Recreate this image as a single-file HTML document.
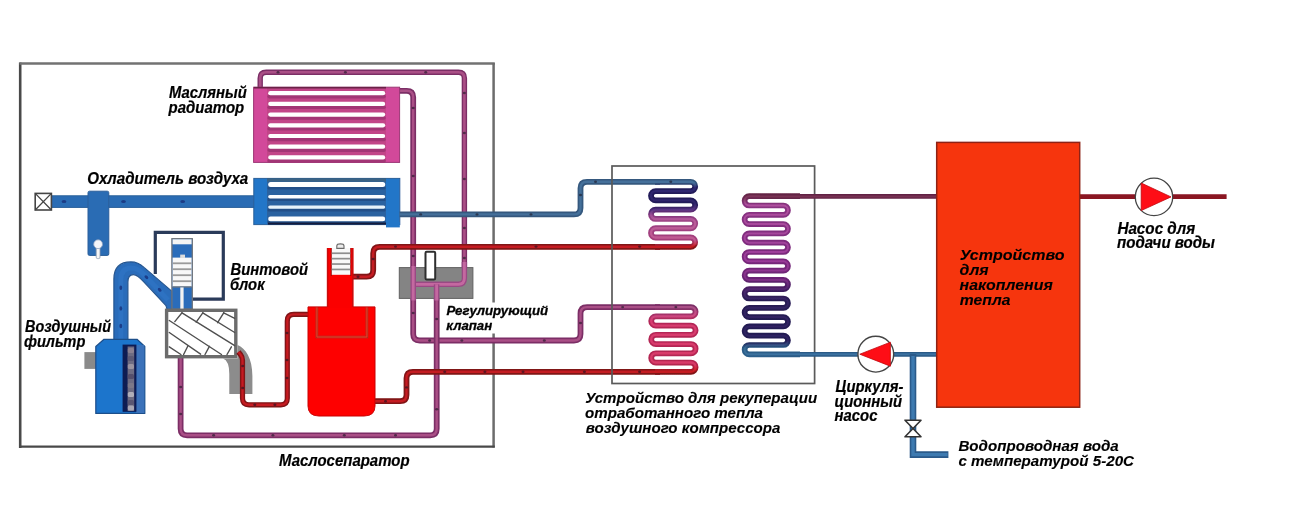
<!DOCTYPE html>
<html lang="ru">
<head>
<meta charset="utf-8">
<title>Схема рекуперации тепла воздушного компрессора</title>
<style>
html,body{margin:0;padding:0;background:#fff;}
body{width:1300px;height:528px;overflow:hidden;font-family:"Liberation Sans",Arial,sans-serif;}
svg{display:block;}
</style>
</head>
<body>
<svg width="1300" height="528" viewBox="0 0 1300 528">
<defs>
<linearGradient id="g1" gradientUnits="userSpaceOnUse" x1="0" y1="178.5" x2="0" y2="249.5">
<stop offset="0" stop-color="#34587e"/><stop offset="0.06" stop-color="#34587e"/><stop offset="0.13" stop-color="#221a5a"/><stop offset="0.36" stop-color="#221a58"/><stop offset="0.44" stop-color="#4a2870"/><stop offset="0.52" stop-color="#883a80"/><stop offset="0.6" stop-color="#9c4284"/><stop offset="0.86" stop-color="#a43e7c"/><stop offset="0.92" stop-color="#a82a44"/><stop offset="0.955" stop-color="#801216"/><stop offset="1" stop-color="#801216"/>
</linearGradient>
<linearGradient id="g1i" gradientUnits="userSpaceOnUse" x1="0" y1="178.5" x2="0" y2="249.5">
<stop offset="0" stop-color="#44709a"/><stop offset="0.06" stop-color="#44709a"/><stop offset="0.13" stop-color="#2e2670"/><stop offset="0.36" stop-color="#2e246a"/><stop offset="0.44" stop-color="#5a3484"/><stop offset="0.52" stop-color="#a04e96"/><stop offset="0.6" stop-color="#b85a98"/><stop offset="0.86" stop-color="#c05a92"/><stop offset="0.92" stop-color="#c83854"/><stop offset="0.955" stop-color="#c41a20"/><stop offset="1" stop-color="#c41a20"/>
</linearGradient>
<linearGradient id="g2" gradientUnits="userSpaceOnUse" x1="0" y1="193" x2="0" y2="357">
<stop offset="0" stop-color="#642444"/><stop offset="0.03" stop-color="#6a2850"/><stop offset="0.07" stop-color="#8a3482"/><stop offset="0.4" stop-color="#7a287c"/><stop offset="0.52" stop-color="#6a2474"/><stop offset="0.6" stop-color="#3a1c5c"/><stop offset="0.66" stop-color="#261a52"/><stop offset="0.9" stop-color="#221a52"/><stop offset="0.945" stop-color="#2a5a84"/><stop offset="1" stop-color="#2c608c"/>
</linearGradient>
<linearGradient id="g2i" gradientUnits="userSpaceOnUse" x1="0" y1="193" x2="0" y2="357">
<stop offset="0" stop-color="#783252"/><stop offset="0.03" stop-color="#80385e"/><stop offset="0.07" stop-color="#b0509e"/><stop offset="0.4" stop-color="#9c3c9a"/><stop offset="0.52" stop-color="#843088"/><stop offset="0.6" stop-color="#48266c"/><stop offset="0.66" stop-color="#322462"/><stop offset="0.9" stop-color="#2e2462"/><stop offset="0.945" stop-color="#386c96"/><stop offset="1" stop-color="#3c74a0"/>
</linearGradient>
<linearGradient id="g3" gradientUnits="userSpaceOnUse" x1="0" y1="304" x2="0" y2="375">
<stop offset="0" stop-color="#7c2e66"/><stop offset="0.05" stop-color="#7c2e66"/><stop offset="0.14" stop-color="#a4346a"/><stop offset="0.25" stop-color="#b42858"/><stop offset="0.85" stop-color="#b42650"/><stop offset="0.92" stop-color="#a81a28"/><stop offset="0.955" stop-color="#801216"/><stop offset="1" stop-color="#801216"/>
</linearGradient>
<linearGradient id="g3i" gradientUnits="userSpaceOnUse" x1="0" y1="304" x2="0" y2="375">
<stop offset="0" stop-color="#aa5086"/><stop offset="0.05" stop-color="#aa5086"/><stop offset="0.14" stop-color="#c84c84"/><stop offset="0.25" stop-color="#d83c70"/><stop offset="0.85" stop-color="#d83a68"/><stop offset="0.92" stop-color="#d42430"/><stop offset="0.955" stop-color="#c41a20"/><stop offset="1" stop-color="#c41a20"/>
</linearGradient>
<filter id="soft" x="0" y="0" width="1300" height="528" filterUnits="userSpaceOnUse"><feGaussianBlur stdDeviation="0.7"/></filter>
<filter id="tsoft" x="0" y="0" width="1300" height="528" filterUnits="userSpaceOnUse"><feGaussianBlur stdDeviation="0.4"/></filter>
</defs>
<rect width="1300" height="528" fill="#fff"/>
<g filter="url(#soft)">
<g fill="none">
<line x1="20.2" y1="62.6" x2="20.2" y2="448" stroke="#4a4a4a" stroke-width="2.6"/>
<line x1="19.5" y1="63.5" x2="494.8" y2="63.5" stroke="#727272" stroke-width="2.3"/>
<line x1="493.6" y1="63" x2="493.6" y2="447.6" stroke="#6c6c6c" stroke-width="2.5"/>
<line x1="19" y1="446.6" x2="494.8" y2="446.6" stroke="#4a4a4a" stroke-width="2.4"/>
</g>
<path d="M260.2,92 L260.20,78.30 Q260.2,72.3 266.20,72.30 L458.40,72.30 Q464.4,72.3 464.40,78.30 L464.40,278.30 Q464.4,284.3 458.40,284.30 L413.2,284.3" fill="none" stroke="#7c2e66" stroke-width="5.4" stroke-linejoin="round" /><path d="M260.2,92 L260.20,78.30 Q260.2,72.3 266.20,72.30 L458.40,72.30 Q464.4,72.3 464.40,78.30 L464.40,278.30 Q464.4,284.3 458.40,284.30 L413.2,284.3" fill="none" stroke="#aa5086" stroke-width="2.6" stroke-linejoin="round" />
<path d="M398,90.8 L406.70,90.80 Q413.2,90.8 413.20,97.30 L413.20,334.00 Q413.2,340.5 419.70,340.50 L574.00,340.50 Q580.5,340.5 580.50,334.00 L580.50,313.60 Q580.5,307.1 587.00,307.10 L660,307.1" fill="none" stroke="#7c2e66" stroke-width="5.8" stroke-linejoin="round" /><path d="M398,90.8 L406.70,90.80 Q413.2,90.8 413.20,97.30 L413.20,334.00 Q413.2,340.5 419.70,340.50 L574.00,340.50 Q580.5,340.5 580.50,334.00 L580.50,313.60 Q580.5,307.1 587.00,307.10 L660,307.1" fill="none" stroke="#aa5086" stroke-width="2.4" stroke-linejoin="round" />
<path d="M436.7,284.3 L436.70,428.80 Q436.7,435.3 430.20,435.30 L187.10,435.30 Q180.6,435.3 180.60,428.80 L180.6,357" fill="none" stroke="#7c2e66" stroke-width="5.8" stroke-linejoin="round" /><path d="M436.7,284.3 L436.70,428.80 Q436.7,435.3 430.20,435.30 L187.10,435.30 Q180.6,435.3 180.60,428.80 L180.6,357" fill="none" stroke="#aa5086" stroke-width="2.4" stroke-linejoin="round" />
<rect x="253.6" y="87.2" width="146" height="75.2" fill="#d2489a"/>
<rect x="267" y="87.2" width="119" height="75.2" fill="#c24488"/>
<rect x="253.6" y="87.2" width="146" height="75.2" fill="none" stroke="#9c3876" stroke-width="1"/>
<rect x="254" y="86.9" width="132" height="1.6" fill="#6a2446"/>
<rect x="267.4" y="94.80" width="118.4" height="3.6" rx="1.8" fill="#a23474"/>
<rect x="268.2" y="91.10" width="117" height="4.2" rx="2.1" fill="#fff"/>
<rect x="267.4" y="105.50" width="118.4" height="3.6" rx="1.8" fill="#a23474"/>
<rect x="268.2" y="101.80" width="117" height="4.2" rx="2.1" fill="#fff"/>
<rect x="267.4" y="116.20" width="118.4" height="3.6" rx="1.8" fill="#a23474"/>
<rect x="268.2" y="112.50" width="117" height="4.2" rx="2.1" fill="#fff"/>
<rect x="267.4" y="126.90" width="118.4" height="3.6" rx="1.8" fill="#a23474"/>
<rect x="268.2" y="123.20" width="117" height="4.2" rx="2.1" fill="#fff"/>
<rect x="267.4" y="137.60" width="118.4" height="3.6" rx="1.8" fill="#a23474"/>
<rect x="268.2" y="133.90" width="117" height="4.2" rx="2.1" fill="#fff"/>
<rect x="267.4" y="148.30" width="118.4" height="3.6" rx="1.8" fill="#a23474"/>
<rect x="268.2" y="144.60" width="117" height="4.2" rx="2.1" fill="#fff"/>
<rect x="267.4" y="159.00" width="118.4" height="3.6" rx="1.8" fill="#a23474"/>
<rect x="268.2" y="155.30" width="117" height="4.2" rx="2.1" fill="#fff"/>
<rect x="51.5" y="195.8" width="204" height="11.6" fill="#2c6cb4"/>
<rect x="51.5" y="195.8" width="204" height="11.6" fill="none" stroke="#2a5f9a" stroke-width="1"/>
<rect x="88" y="191.2" width="20.8" height="64.2" rx="1.5" fill="#2c6cb4" stroke="#2a5f9a" stroke-width="1"/>
<rect x="96.2" y="246" width="3.8" height="12.6" rx="1.4" fill="#f6f6f6" stroke="#8a9ab0" stroke-width="0.8"/>
<circle cx="98.1" cy="244.2" r="4.4" fill="#f4f6fa" stroke="#8aa0c0" stroke-width="0.8"/>
<rect x="35.2" y="193.4" width="16.2" height="16.6" fill="#fff" stroke="#444" stroke-width="1.6"/>
<path d="M35.2,193.4 L51.4,210 M51.4,193.4 L35.2,210" stroke="#444" stroke-width="1.3" fill="none"/>
<rect x="253.8" y="178.4" width="146" height="46.2" fill="#2276c8"/>
<rect x="267" y="178.4" width="119" height="46.2" fill="#2c62a0"/>
<rect x="253.8" y="178.4" width="146" height="46.2" fill="none" stroke="#2a5f9a" stroke-width="1"/>
<rect x="267" y="178.2" width="119" height="3.4" fill="#3a6284"/>
<rect x="386" y="222" width="13.8" height="5.4" fill="#2276c8"/>
<rect x="267.6" y="186.60" width="118" height="3" rx="1.2" fill="#234f88"/>
<rect x="268.2" y="182.00" width="117" height="5" rx="2.5" fill="#fff"/>
<rect x="267.6" y="198.10" width="118" height="3" rx="1.2" fill="#234f88"/>
<rect x="268.2" y="194.90" width="117" height="3.6" rx="1.8" fill="#fbfdff"/>
<rect x="267.6" y="208.40" width="118" height="3" rx="1.2" fill="#234f88"/>
<rect x="268.2" y="205.40" width="117" height="3.4" rx="1.7" fill="#e6f2fa"/>
<rect x="267.6" y="220.80" width="118" height="3" rx="1.2" fill="#234f88"/>
<rect x="268.2" y="216.60" width="117" height="4.6" rx="2.3" fill="#fff"/>
<rect x="268" y="222.6" width="118" height="2" fill="#161c3c"/>
<path d="M399.6,214.4 L574.00,214.40 Q580.5,214.4 580.50,207.90 L580.50,188.30 Q580.5,181.8 587.00,181.80 L660,181.8" fill="none" stroke="#34587e" stroke-width="5.8" stroke-linejoin="round" /><path d="M399.6,214.4 L574.00,214.40 Q580.5,214.4 580.50,207.90 L580.50,188.30 Q580.5,181.8 587.00,181.80 L660,181.8" fill="none" stroke="#44709a" stroke-width="2.4" stroke-linejoin="round" />
<path d="M353,276.7 L366.70,276.70 Q373.2,276.7 373.20,270.20 L373.20,253.30 Q373.2,246.8 379.70,246.80 L660,246.8" fill="none" stroke="#801216" stroke-width="5.8" stroke-linejoin="round" /><path d="M353,276.7 L366.70,276.70 Q373.2,276.7 373.20,270.20 L373.20,253.30 Q373.2,246.8 379.70,246.80 L660,246.8" fill="none" stroke="#c41a20" stroke-width="2.4" stroke-linejoin="round" />
<path d="M374,401.2 L400.00,401.20 Q406.5,401.2 406.50,394.70 L406.50,378.30 Q406.5,371.8 413.00,371.80 L660,371.8" fill="none" stroke="#801216" stroke-width="5.8" stroke-linejoin="round" /><path d="M374,401.2 L400.00,401.20 Q406.5,401.2 406.50,394.70 L406.50,378.30 Q406.5,371.8 413.00,371.80 L660,371.8" fill="none" stroke="#c41a20" stroke-width="2.4" stroke-linejoin="round" />
<rect x="399.3" y="267.6" width="73.6" height="30.8" fill="#848484" stroke="#626262" stroke-width="1"/>
<path d="M464.4,262 L464.40,278.30 Q464.4,284.3 458.40,284.30 L413.2,284.3" fill="none" stroke="#9a4a84" stroke-width="5.4" stroke-linejoin="round" /><path d="M464.4,262 L464.40,278.30 Q464.4,284.3 458.40,284.30 L413.2,284.3" fill="none" stroke="#c468a0" stroke-width="2.8" stroke-linejoin="round" />
<path d="M413.2,266 L413.2,300.5" fill="none" stroke="#9a4a84" stroke-width="5.6" stroke-linejoin="round" /><path d="M413.2,266 L413.2,300.5" fill="none" stroke="#c468a0" stroke-width="2.8" stroke-linejoin="round" />
<path d="M436.6,284.3 L436.6,300.5" fill="none" stroke="#9a4a84" stroke-width="5.6" stroke-linejoin="round" /><path d="M436.6,284.3 L436.6,300.5" fill="none" stroke="#c468a0" stroke-width="2.8" stroke-linejoin="round" />
<rect x="425.5" y="251.8" width="9.7" height="27.6" rx="1.2" fill="#fff" stroke="#2e2e2e" stroke-width="2"/>
<path d="M155.3,274 L155.3,232.3 L223.3,232.3 L223.3,299.2 L192,299.2" fill="none" stroke="#2c3a5a" stroke-width="3.2"/>
<path d="M113.9,346 L113.9,279 C113.9,268 120,261.9 131,261.9 C137,261.9 140.5,264.2 144,267.4 L172,291.4 L172,311 L167.5,311 L166,305.6 L143.8,281.8 C140,277.6 137,274.6 133.4,274.6 C129.6,274.6 127.9,277.6 127.9,282 L127.9,346 Z" fill="#2a6cba" stroke="#25558f" stroke-width="1.2" stroke-linejoin="round"/>
<path d="M120.8,346 L120.8,280 C120.8,271 125,268 131.5,268 C137,268 140,270.5 143.5,274 L168,300" fill="none" stroke="#3078c8" stroke-width="5" opacity="0.55"/>
<rect x="171.9" y="238.7" width="20.4" height="70.5" fill="#2a6cba" stroke="#6e747c" stroke-width="1.3"/>
<rect x="172.6" y="239.3" width="19" height="5" fill="#f4f4f4"/>
<rect x="172.6" y="257.6" width="19" height="29" fill="#f8f8f8"/>
<rect x="172.6" y="262.40000000000003" width="19" height="1.8" fill="#9a9a9a"/>
<rect x="172.6" y="268.3" width="19" height="1.8" fill="#9a9a9a"/>
<rect x="172.6" y="274.3" width="19" height="1.8" fill="#9a9a9a"/>
<rect x="172.6" y="280.3" width="19" height="1.8" fill="#9a9a9a"/>
<rect x="180.2" y="254.6" width="4.8" height="3.4" fill="#dcdcdc"/>
<rect x="172.6" y="286.3" width="19" height="1.3" fill="#70757c"/>
<rect x="180.3" y="287.4" width="3.3" height="22" fill="#f2f2f2"/>
<rect x="166.6" y="310.3" width="69.2" height="46.4" fill="#fff" stroke="#6c6c6c" stroke-width="3.4"/>
<g stroke="#505050" stroke-width="1.4" fill="none" stroke-linecap="round">
<path d="M169.3,320.5 L221.5,354.5 M169.3,332.5 L200.6,354.2 M169.3,346.8 L180.9,354.5 M182,312.8 L234.7,345.7 M202.8,312.8 L234.7,332.5 M223.7,312.8 L234.7,318.3"/>
<path d="M174.8,321.6 L182,312.8 M196.2,322.1 L202.8,312.8 M217.6,322.7 L223.7,312.8 M183.6,354.5 L188,345.7 M205,354.5 L209.4,346.3 M227,354.5 L231.4,346.8"/>
</g>
<path d="M237.6,345 C245.5,348.5 252.4,358 252.4,376 L252.4,394 L229.3,394 L229.3,374 Q229.3,361 223,358.6 L237.6,358.6 Z" fill="#8c8c8c"/>
<path d="M238.4,352 L240.45,354.50 Q242.5,357 242.50,360.23 L242.50,398.30 Q242.5,404.8 249.00,404.80 L280.80,404.80 Q287.3,404.8 287.30,398.30 L287.30,320.90 Q287.3,314.4 293.80,314.40 L309,314.4" fill="none" stroke="#801216" stroke-width="5.2" stroke-linejoin="round" /><path d="M238.4,352 L240.45,354.50 Q242.5,357 242.50,360.23 L242.50,398.30 Q242.5,404.8 249.00,404.80 L280.80,404.80 Q287.3,404.8 287.30,398.30 L287.30,320.90 Q287.3,314.4 293.80,314.40 L309,314.4" fill="none" stroke="#c41a20" stroke-width="2.4" stroke-linejoin="round" />
<rect x="84.4" y="352.1" width="12" height="16.8" fill="#8a8a8a"/>
<path d="M95.8,413.4 L95.8,346.5 L104,339.3 L137,339.3 L144.8,346.5 L144.8,413.4 Z" fill="#1c74cc" stroke="#1f4f8a" stroke-width="1.2" stroke-linejoin="round"/>
<rect x="136" y="345" width="8.2" height="68" fill="#3a72ba"/>
<rect x="122.6" y="344.6" width="13.8" height="67.2" fill="#101a52"/>
<rect x="127.6" y="346.5" width="6.6" height="64.5" fill="#6e6c82"/>
<rect x="127.8" y="348" width="6.2" height="5" rx="1.5" fill="#8a8090"/>
<rect x="127.8" y="356" width="6.2" height="5" rx="1.5" fill="#5c5a74"/>
<rect x="127.8" y="364" width="6.2" height="5" rx="1.5" fill="#9a94a0"/>
<rect x="127.8" y="374" width="6.2" height="5" rx="1.5" fill="#54506c"/>
<rect x="127.8" y="383" width="6.2" height="5" rx="1.5" fill="#7c7888"/>
<rect x="127.8" y="392" width="6.2" height="5" rx="1.5" fill="#b0aeb8"/>
<rect x="127.8" y="400" width="6.2" height="5" rx="1.5" fill="#5a5672"/>
<rect x="127.8" y="405.5" width="6.2" height="5" rx="1.5" fill="#a8a6b4"/>
<path d="M308,306.9 L375,306.9 L375,406 Q375,416 364,416 L319,416 Q308,416 308,406 Z" fill="#fe0000" stroke="#c80a0a" stroke-width="1"/>
<rect x="326.9" y="248" width="26.4" height="60" fill="#fb0000"/>
<rect x="326.9" y="248" width="1.4" height="59" fill="#c80808"/>
<rect x="352" y="248" width="1.4" height="59" fill="#c80808"/>
<rect x="330.8" y="248" width="1.2" height="28" fill="#a01010"/>
<rect x="350" y="248" width="1.2" height="28" fill="#a01010"/>
<rect x="331.8" y="248" width="18.4" height="26.8" fill="#f8f8f8"/>
<rect x="331.8" y="252.4" width="18.4" height="1.7" fill="#8e8e8e"/>
<rect x="331.8" y="257.8" width="18.4" height="1.7" fill="#8e8e8e"/>
<rect x="331.8" y="263.2" width="18.4" height="1.7" fill="#8e8e8e"/>
<rect x="331.8" y="268.6" width="18.4" height="1.7" fill="#8e8e8e"/>
<path d="M336.8,248.4 L336.8,245.8 Q336.8,243.9 340.4,243.9 Q344,243.9 344,245.8 L344,248.4 Z" fill="#ececec" stroke="#6a6a6a" stroke-width="1.1"/>
<path d="M316.9,307.4 L316.9,337 L366.9,337 L366.9,307.4" fill="none" stroke="#a8301e" stroke-width="2.6"/>
<path d="M316.9,307.4 L316.9,337 L366.9,337 L366.9,307.4" fill="none" stroke="#ff3a2a" stroke-width="0.9"/>
<rect x="612" y="166" width="202.6" height="217.5" fill="none" stroke="#5a5a5a" stroke-width="1.7"/>
<path d="M655,181.8 L690.56,181.80 A4.64,4.64 0 0 1 690.56,191.09 L655.64,191.09 A4.64,4.64 0 0 0 655.64,200.37 L690.56,200.37 A4.64,4.64 0 0 1 690.56,209.66 L655.64,209.66 A4.64,4.64 0 0 0 655.64,218.94 L690.56,218.94 A4.64,4.64 0 0 1 690.56,228.23 L655.64,228.23 A4.64,4.64 0 0 0 655.64,237.52 L690.56,237.52 A4.64,4.64 0 0 1 690.56,246.80 L655,246.8" fill="none" stroke="url(#g1)" stroke-width="5.8" stroke-linejoin="round" /><path d="M655,181.8 L690.56,181.80 A4.64,4.64 0 0 1 690.56,191.09 L655.64,191.09 A4.64,4.64 0 0 0 655.64,200.37 L690.56,200.37 A4.64,4.64 0 0 1 690.56,209.66 L655.64,209.66 A4.64,4.64 0 0 0 655.64,218.94 L690.56,218.94 A4.64,4.64 0 0 1 690.56,228.23 L655.64,228.23 A4.64,4.64 0 0 0 655.64,237.52 L690.56,237.52 A4.64,4.64 0 0 1 690.56,246.80 L655,246.8" fill="none" stroke="url(#g1i)" stroke-width="2.4" stroke-linejoin="round" />
<path d="M655,307.1 L690.98,307.10 A4.62,4.62 0 0 1 690.98,316.34 L655.82,316.34 A4.62,4.62 0 0 0 655.82,325.58 L690.98,325.58 A4.62,4.62 0 0 1 690.98,334.82 L655.82,334.82 A4.62,4.62 0 0 0 655.82,344.06 L690.98,344.06 A4.62,4.62 0 0 1 690.98,353.30 L655.82,353.30 A4.62,4.62 0 0 0 655.82,362.54 L690.98,362.54 A4.62,4.62 0 0 1 690.98,371.78 L655,371.8" fill="none" stroke="url(#g3)" stroke-width="5.8" stroke-linejoin="round" /><path d="M655,307.1 L690.98,307.10 A4.62,4.62 0 0 1 690.98,316.34 L655.82,316.34 A4.62,4.62 0 0 0 655.82,325.58 L690.98,325.58 A4.62,4.62 0 0 1 690.98,334.82 L655.82,334.82 A4.62,4.62 0 0 0 655.82,344.06 L690.98,344.06 A4.62,4.62 0 0 1 690.98,353.30 L655.82,353.30 A4.62,4.62 0 0 0 655.82,362.54 L690.98,362.54 A4.62,4.62 0 0 1 690.98,371.78 L655,371.8" fill="none" stroke="url(#g3i)" stroke-width="2.4" stroke-linejoin="round" />
<path d="M800,196.2 L749.25,196.20 A4.65,4.65 0 0 0 749.25,205.50 L783.35,205.50 A4.65,4.65 0 0 1 783.35,214.80 L749.25,214.80 A4.65,4.65 0 0 0 749.25,224.10 L783.35,224.10 A4.65,4.65 0 0 1 783.35,233.40 L749.25,233.40 A4.65,4.65 0 0 0 749.25,242.70 L783.35,242.70 A4.65,4.65 0 0 1 783.35,252.00 L749.25,252.00 A4.65,4.65 0 0 0 749.25,261.30 L783.35,261.30 A4.65,4.65 0 0 1 783.35,270.60 L749.25,270.60 A4.65,4.65 0 0 0 749.25,279.90 L783.35,279.90 A4.65,4.65 0 0 1 783.35,289.20 L749.25,289.20 A4.65,4.65 0 0 0 749.25,298.50 L783.35,298.50 A4.65,4.65 0 0 1 783.35,307.80 L749.25,307.80 A4.65,4.65 0 0 0 749.25,317.10 L783.35,317.10 A4.65,4.65 0 0 1 783.35,326.40 L749.25,326.40 A4.65,4.65 0 0 0 749.25,335.70 L783.35,335.70 A4.65,4.65 0 0 1 783.35,345.00 L749.25,345.00 A4.65,4.65 0 0 0 749.25,354.30 L800,354.3" fill="none" stroke="url(#g2)" stroke-width="5.7" stroke-linejoin="round" /><path d="M800,196.2 L749.25,196.20 A4.65,4.65 0 0 0 749.25,205.50 L783.35,205.50 A4.65,4.65 0 0 1 783.35,214.80 L749.25,214.80 A4.65,4.65 0 0 0 749.25,224.10 L783.35,224.10 A4.65,4.65 0 0 1 783.35,233.40 L749.25,233.40 A4.65,4.65 0 0 0 749.25,242.70 L783.35,242.70 A4.65,4.65 0 0 1 783.35,252.00 L749.25,252.00 A4.65,4.65 0 0 0 749.25,261.30 L783.35,261.30 A4.65,4.65 0 0 1 783.35,270.60 L749.25,270.60 A4.65,4.65 0 0 0 749.25,279.90 L783.35,279.90 A4.65,4.65 0 0 1 783.35,289.20 L749.25,289.20 A4.65,4.65 0 0 0 749.25,298.50 L783.35,298.50 A4.65,4.65 0 0 1 783.35,307.80 L749.25,307.80 A4.65,4.65 0 0 0 749.25,317.10 L783.35,317.10 A4.65,4.65 0 0 1 783.35,326.40 L749.25,326.40 A4.65,4.65 0 0 0 749.25,335.70 L783.35,335.70 A4.65,4.65 0 0 1 783.35,345.00 L749.25,345.00 A4.65,4.65 0 0 0 749.25,354.30 L800,354.3" fill="none" stroke="url(#g2i)" stroke-width="2.0" stroke-linejoin="round" />
<path d="M760,196.4 L937,196.4" fill="none" stroke="#622444" stroke-width="4.8" stroke-linejoin="round" /><path d="M760,196.4 L937,196.4" fill="none" stroke="#783252" stroke-width="2" stroke-linejoin="round" />
<path d="M770,354.3 L937,354.3" fill="none" stroke="#2a5a86" stroke-width="4.8" stroke-linejoin="round" /><path d="M770,354.3 L937,354.3" fill="none" stroke="#3a72a0" stroke-width="2" stroke-linejoin="round" />
<path d="M913,354 L913,454.6 L948.4,454.6" fill="none" stroke="#2a5a8a" stroke-width="6.6" stroke-linejoin="miter"/>
<path d="M913,356 L913,454.6 L947.6,454.6" fill="none" stroke="#3e7ab0" stroke-width="3.4" stroke-linejoin="miter"/>
<path d="M905,420.2 L921,420.2 L905,436.8 L921,436.8 Z" fill="#fff" stroke="#333" stroke-width="1.6" stroke-linejoin="round"/>
<circle cx="875.8" cy="354.2" r="17.9" fill="#fff" stroke="#444" stroke-width="1.4"/>
<path d="M859.8,354.2 L890.4,342.2 L890.4,366.2 Z" fill="#fe0a12" stroke="#c00810" stroke-width="0.8"/>
<path d="M1079.6,196.6 L1226.6,196.6" stroke="#8a1420" stroke-width="4.6" fill="none"/>
<rect x="936.7" y="142.4" width="143" height="264.8" fill="#f6360a" stroke="#8e2412" stroke-width="1.5"/>
<circle cx="1154" cy="196.9" r="18.7" fill="#fff" stroke="#444" stroke-width="1.3"/>
<path d="M1141.2,183 L1171,196.9 L1141.2,210.6 Z" fill="#fe0a12" stroke="#c00810" stroke-width="0.8"/>
<g fill="#16307a" opacity="0.8">
<ellipse cx="64" cy="201.6" rx="2.4" ry="1.5"/>
<ellipse cx="123.5" cy="201.6" rx="2.4" ry="1.5"/>
<ellipse cx="182.7" cy="201.6" rx="2.4" ry="1.5"/>
<ellipse cx="120.8" cy="287.8" rx="1.4" ry="2.2"/>
<ellipse cx="120.8" cy="308.4" rx="1.4" ry="2.2"/>
<ellipse cx="120.8" cy="326" rx="1.4" ry="2.2"/>
<ellipse cx="146.4" cy="277.2" rx="2.2" ry="1.5" transform="rotate(42 146.4 277.2)"/>
<ellipse cx="159.7" cy="289.8" rx="2.2" ry="1.5" transform="rotate(42 159.7 289.8)"/>
</g>
<g fill="#1c1626" opacity="0.62">
<ellipse cx="278" cy="72.3" rx="1.5" ry="1.2"/>
<ellipse cx="345.4" cy="72.3" rx="1.5" ry="1.2"/>
<ellipse cx="425.7" cy="72.3" rx="1.5" ry="1.2"/>
<ellipse cx="464.4" cy="93" rx="1.5" ry="1.2"/>
<ellipse cx="464.4" cy="133" rx="1.5" ry="1.2"/>
<ellipse cx="413.2" cy="108" rx="1.5" ry="1.2"/>
<ellipse cx="413.2" cy="176" rx="1.5" ry="1.2"/>
<ellipse cx="464.4" cy="179" rx="1.5" ry="1.2"/>
<ellipse cx="464.4" cy="228" rx="1.5" ry="1.2"/>
<ellipse cx="420.7" cy="214.4" rx="1.5" ry="1.2"/>
<ellipse cx="477" cy="214.4" rx="1.5" ry="1.2"/>
<ellipse cx="531" cy="214.4" rx="1.5" ry="1.2"/>
<ellipse cx="580.5" cy="195" rx="1.5" ry="1.2"/>
<ellipse cx="595.5" cy="181.8" rx="1.5" ry="1.2"/>
<ellipse cx="670.8" cy="181.8" rx="1.5" ry="1.2"/>
<ellipse cx="536" cy="246.6" rx="1.5" ry="1.2"/>
<ellipse cx="639.6" cy="246.6" rx="1.5" ry="1.2"/>
<ellipse cx="395.5" cy="246.6" rx="1.5" ry="1.2"/>
<ellipse cx="373.2" cy="259" rx="1.5" ry="1.2"/>
<ellipse cx="358" cy="276.7" rx="1.5" ry="1.2"/>
<ellipse cx="413.2" cy="256" rx="1.5" ry="1.2"/>
<ellipse cx="464.4" cy="258" rx="1.5" ry="1.2"/>
<ellipse cx="413.2" cy="313" rx="1.5" ry="1.2"/>
<ellipse cx="436.7" cy="319" rx="1.5" ry="1.2"/>
<ellipse cx="429.6" cy="340.5" rx="1.5" ry="1.2"/>
<ellipse cx="461.8" cy="340.5" rx="1.5" ry="1.2"/>
<ellipse cx="444.7" cy="371.8" rx="1.5" ry="1.2"/>
<ellipse cx="484.9" cy="371.8" rx="1.5" ry="1.2"/>
<ellipse cx="523" cy="371.8" rx="1.5" ry="1.2"/>
<ellipse cx="406.5" cy="387.4" rx="1.5" ry="1.2"/>
<ellipse cx="287" cy="333" rx="1.5" ry="1.2"/>
<ellipse cx="287" cy="378" rx="1.5" ry="1.2"/>
<ellipse cx="544.3" cy="340.5" rx="1.5" ry="1.2"/>
<ellipse cx="580.5" cy="323" rx="1.5" ry="1.2"/>
<ellipse cx="622.6" cy="307.1" rx="1.5" ry="1.2"/>
<ellipse cx="675.8" cy="307.1" rx="1.5" ry="1.2"/>
<ellipse cx="584.4" cy="371.8" rx="1.5" ry="1.2"/>
<ellipse cx="639.6" cy="371.8" rx="1.5" ry="1.2"/>
<ellipse cx="180.6" cy="387" rx="1.5" ry="1.2"/>
<ellipse cx="180.6" cy="414" rx="1.5" ry="1.2"/>
<ellipse cx="213.6" cy="435.3" rx="1.5" ry="1.2"/>
<ellipse cx="272.9" cy="435.3" rx="1.5" ry="1.2"/>
<ellipse cx="242.7" cy="366" rx="1.5" ry="1.2"/>
<ellipse cx="242.7" cy="388" rx="1.5" ry="1.2"/>
<ellipse cx="254.8" cy="404.8" rx="1.5" ry="1.2"/>
<ellipse cx="274.9" cy="404.8" rx="1.5" ry="1.2"/>
<ellipse cx="287" cy="360" rx="1.5" ry="1.2"/>
<ellipse cx="344.3" cy="435.3" rx="1.5" ry="1.2"/>
<ellipse cx="395.5" cy="435.3" rx="1.5" ry="1.2"/>
<ellipse cx="436.7" cy="409.2" rx="1.5" ry="1.2"/>
<ellipse cx="385.5" cy="401.2" rx="1.5" ry="1.2"/>
</g>
</g>
<rect x="442" y="302.5" width="110" height="31" fill="#fff"/>
<g font-family="'Liberation Sans', Arial, sans-serif" font-weight="bold" font-style="italic" fill="#000" stroke="#000" stroke-width="0.12" stroke-linejoin="round" filter="url(#tsoft)">
<text x="169" y="98.3" font-size="16.3" textLength="77.8" lengthAdjust="spacingAndGlyphs" stroke-width="0.22">Масляный</text>
<text x="168.6" y="112.5" font-size="16.3" textLength="75.6" lengthAdjust="spacingAndGlyphs" stroke-width="0.22">радиатор</text>
<text x="87.2" y="184.1" font-size="16" textLength="161" lengthAdjust="spacingAndGlyphs" stroke-width="0.22">Охладитель воздуха</text>
<text x="230.6" y="275.2" font-size="15.8" textLength="77.5" lengthAdjust="spacingAndGlyphs" stroke-width="0.2">Винтовой</text>
<text x="230.1" y="290.4" font-size="15.8" textLength="34.6" lengthAdjust="spacingAndGlyphs" stroke-width="0.2">блок</text>
<text x="25" y="331.6" font-size="15.6" textLength="86" lengthAdjust="spacingAndGlyphs" stroke-width="0.2">Воздушный</text>
<text x="23.9" y="346.8" font-size="15.6" textLength="61.5" lengthAdjust="spacingAndGlyphs" stroke-width="0.2">фильтр</text>
<text x="446.4" y="314.6" font-size="12.2" textLength="101.8" lengthAdjust="spacingAndGlyphs" stroke-width="0.3">Регулирующий</text>
<text x="446.2" y="330.1" font-size="12.2" textLength="46" lengthAdjust="spacingAndGlyphs" stroke-width="0.3">клапан</text>
<text x="279" y="466.3" font-size="15.6" textLength="130.6" lengthAdjust="spacingAndGlyphs" stroke-width="0.2">Маслосепаратор</text>
<text x="585.2" y="402.5" font-size="15" textLength="232" lengthAdjust="spacingAndGlyphs">Устройство для рекуперации</text>
<text x="585" y="417.7" font-size="15" textLength="178" lengthAdjust="spacingAndGlyphs">отработанного тепла</text>
<text x="585.8" y="432.7" font-size="15" textLength="194.6" lengthAdjust="spacingAndGlyphs">воздушного компрессора</text>
<text x="835.6" y="392.2" font-size="16.4" textLength="67.8" lengthAdjust="spacingAndGlyphs" stroke-width="0.24">Циркуля-</text>
<text x="834.6" y="406.6" font-size="16.4" textLength="67.4" lengthAdjust="spacingAndGlyphs" stroke-width="0.24">ционный</text>
<text x="834.6" y="421.1" font-size="16.4" textLength="42.8" lengthAdjust="spacingAndGlyphs" stroke-width="0.24">насос</text>
<text x="958.4" y="451" font-size="15.3" textLength="160.4" lengthAdjust="spacingAndGlyphs">Водопроводная вода</text>
<text x="958.4" y="466.1" font-size="15.3" textLength="175.6" lengthAdjust="spacingAndGlyphs">с температурой 5-20С</text>
<text x="1117.4" y="233.5" font-size="16.2" textLength="77.8" lengthAdjust="spacingAndGlyphs" stroke-width="0.24">Насос для</text>
<text x="1117" y="248.4" font-size="16.2" textLength="98" lengthAdjust="spacingAndGlyphs" stroke-width="0.24">подачи воды</text>
<text x="959.8" y="259.9" font-size="15" textLength="104.8" lengthAdjust="spacingAndGlyphs">Устройство</text>
<text x="959.6" y="274.8" font-size="15" textLength="29" lengthAdjust="spacingAndGlyphs">для</text>
<text x="959.6" y="290" font-size="15" textLength="93.2" lengthAdjust="spacingAndGlyphs">накопления</text>
<text x="959.8" y="305" font-size="15" textLength="50.6" lengthAdjust="spacingAndGlyphs">тепла</text>
</g>
</svg>
</body>
</html>
